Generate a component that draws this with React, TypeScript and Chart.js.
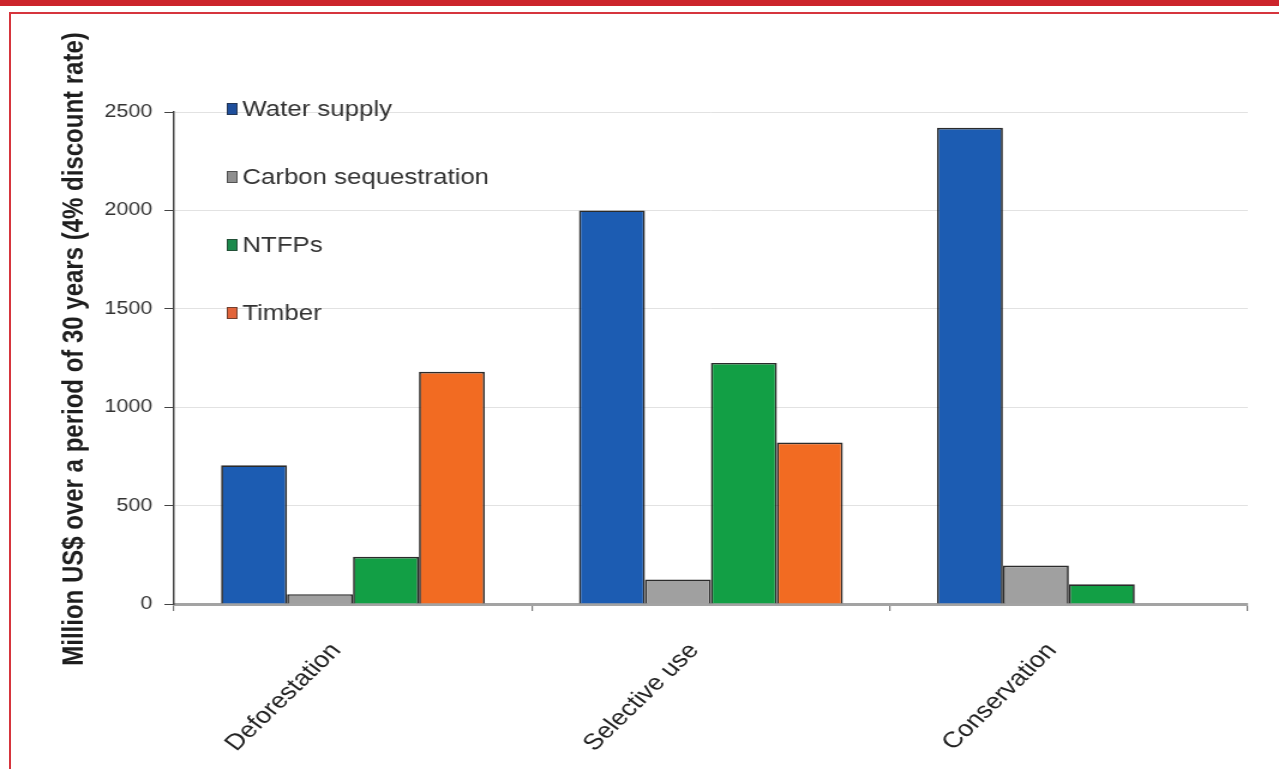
import React, { useEffect, useRef } from "react";
import { Chart, registerables } from "chart.js";

Chart.register(...registerables);

const categories = ["Deforestation", "Selective use", "Conservation"];
const seriesNames = ["Water supply", "Carbon sequestration", "NTFPs", "Timber"];
const waterSupply = [705, 2000, 2420];
const carbonSequestration = [50, 125, 195];
const ntfps = [240, 1225, 100];
const timber: (number | null)[] = [1180, 820, null];
const yTickMax = 2500;
const yTickStep = 500;
const yTitle = "Million US$ over a period of 30 years (4% discount rate)";

const barColors = ["#1c5cb2", "#a0a0a0", "#129f45", "#f26b22"];
const legendColors = ["#1f4f9c", "#8f8f8f", "#1b8a4c", "#e2643a"];

// horizontal stretch of the reference picture
const SX = 1.2;
const W_CSS = 1279;
const H = 769;
const W = Math.round(W_CSS / SX);

const overlayPlugin = {
  id: "overlay",
  afterDraw(chart: any) {
    const ctx = chart.ctx as CanvasRenderingContext2D;
    // y axis title
    ctx.save();
    ctx.translate(62.5, 349);
    ctx.rotate(-Math.PI / 2);
    ctx.font = "bold 24px 'Liberation Sans', Arial, sans-serif";
    ctx.fillStyle = "#1e1e1e";
    ctx.textAlign = "center";
    ctx.textBaseline = "middle";
    ctx.fillText(yTitle, 0, 0);
    ctx.restore();
    // legend
    ctx.save();
    const x0 = 189;
    const y0 = 109;
    const step = 68;
    chart.data.datasets.forEach((ds: any, i: number) => {
      const y = y0 + i * step;
      ctx.fillStyle = legendColors[i];
      ctx.fillRect(x0, y - 6, 9, 12);
      ctx.strokeStyle = "rgba(40,40,40,0.6)";
      ctx.lineWidth = 1;
      ctx.strokeRect(x0 + 0.5, y - 5.5, 8, 11);
      ctx.font = "21.5px 'Liberation Sans', Arial, sans-serif";
      ctx.fillStyle = "#333";
      ctx.textAlign = "left";
      ctx.textBaseline = "middle";
      ctx.fillText(ds.label, x0 + 13, y + 1);
    });
    ctx.restore();
  },
};

export default function App() {
  const ref = useRef<HTMLCanvasElement | null>(null);

  useEffect(() => {
    if (!ref.current) return;
    const allSeries = [waterSupply, carbonSequestration, ntfps, timber];
    const chart = new Chart(ref.current, {
      type: "bar",
      data: {
        labels: categories,
        datasets: allSeries.map((d, i) => ({
          label: seriesNames[i],
          data: d as any,
          backgroundColor: barColors[i],
          borderColor: "rgba(20,20,20,0.9)",
          borderWidth: 1.7,
          categoryPercentage: 0.737,
          barPercentage: 1.0,
        })),
      },
      options: {
        responsive: false,
        devicePixelRatio: 1,
        animation: false,
        layout: { padding: { left: 0, top: 112, right: W - 1040, bottom: 0 } },
        plugins: {
          legend: { display: false },
          tooltip: { enabled: false },
          title: { display: false },
        },
        scales: {
          x: {
            afterFit: (scale: any) => {
              scale.height = H - 604;
            },
            grid: {
              display: true,
              drawOnChartArea: false,
              offset: true,
              tickLength: 7,
              tickColor: "#777",
              lineWidth: 1.2,
            },
            border: { display: true, color: "#a3a3a3", width: 3 },
            ticks: {
              minRotation: 49,
              maxRotation: 49,
              padding: 27,
              labelOffset: -14,
              color: "#222",
              font: { family: "'Liberation Sans', Arial, sans-serif", size: 22.5 },
            },
          },
          y: {
            min: 0,
            max: yTickMax,
            afterFit: (scale: any) => {
              scale.width = 145;
            },
            grid: {
              color: "#e2e2e2",
              lineWidth: 1,
              tickLength: 8,
              tickColor: "#444",
              drawTicks: true,
            },
            border: { display: true, color: "#444", width: 1.5 },
            ticks: {
              stepSize: yTickStep,
              padding: 10,
              color: "#333",
              callback: (v: any) => String(v),
              font: { family: "'Liberation Sans', Arial, sans-serif", size: 18 },
            },
          },
        },
      },
      plugins: [overlayPlugin],
    });
    return () => chart.destroy();
  }, []);

  return (
    <div
      style={{
        position: "fixed",
        left: 0,
        top: 0,
        width: W_CSS,
        height: H,
        background: "#fff",
        overflow: "hidden",
      }}
    >
      <canvas
        ref={ref}
        width={W}
        height={H}
        style={{ position: "absolute", left: 0, top: 0, width: W_CSS + "px", height: H + "px" }}
      />
      <div style={{ position: "absolute", left: 0, top: 0, width: W_CSS, height: 6, background: "#cc242b" }} />
      <div
        style={{
          position: "absolute",
          left: 9,
          top: 12,
          width: W_CSS,
          height: H,
          borderTop: "2px solid #d6353d",
          borderLeft: "2px solid #d6353d",
          boxSizing: "border-box",
        }}
      />
    </div>
  );
}
